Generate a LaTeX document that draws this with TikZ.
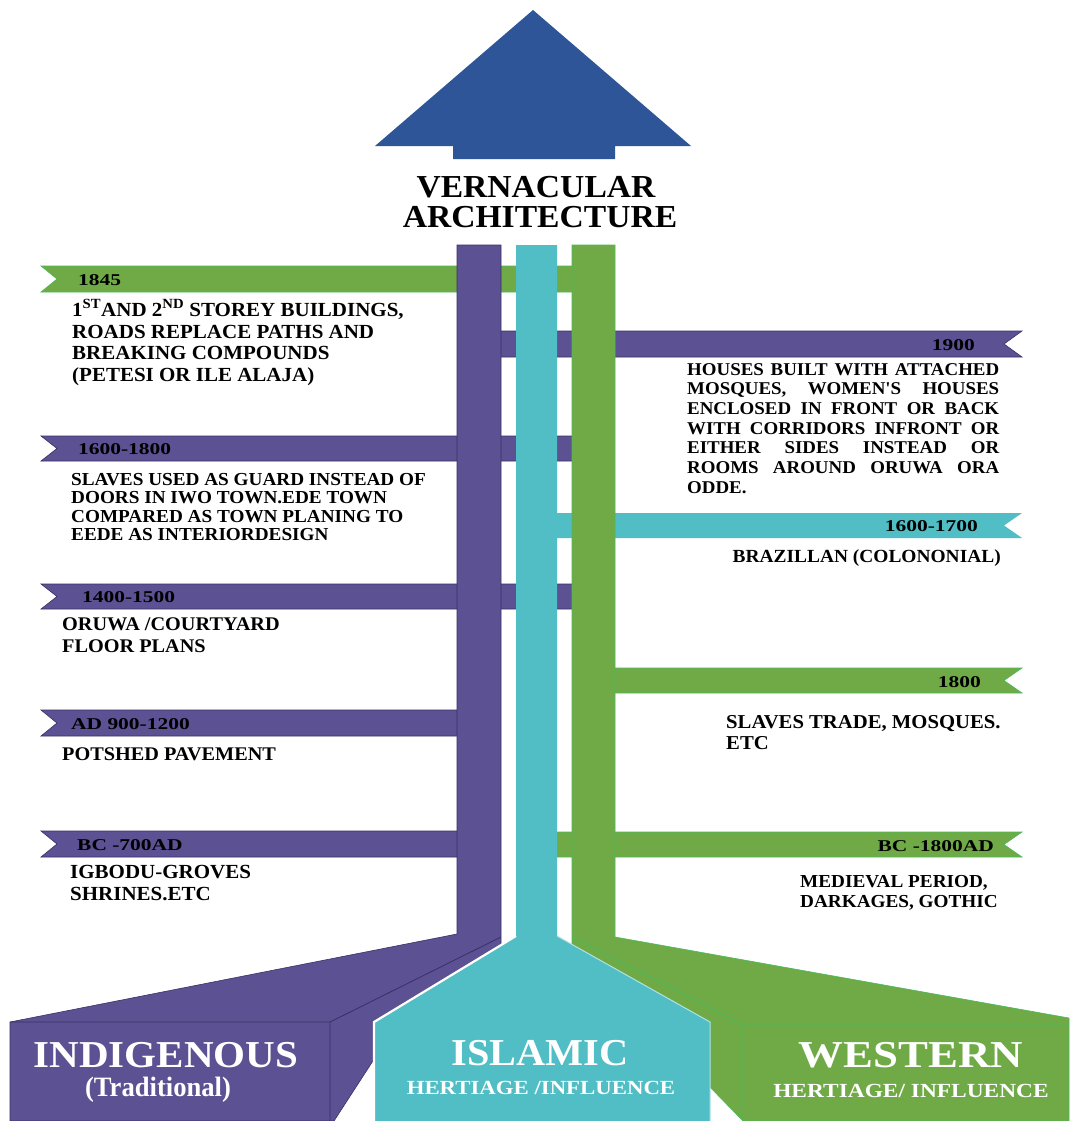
\documentclass[tikz,border=0pt]{standalone}
\usepackage{fontspec}
\usepackage{graphicx}
\setmainfont{Liberation Serif}
\newfontfamily\bfont[FakeStretch=1.05]{Liberation Serif}
\newfontfamily\lfont[FakeStretch=1.3]{Liberation Serif}
\newfontfamily\nfont{Liberation Serif}
\definecolor{pur}{RGB}{92,81,146}
\definecolor{purd}{RGB}{58,48,104}
\definecolor{tea}{RGB}{80,190,196}
\definecolor{gre}{RGB}{112,170,70}
\definecolor{gred}{RGB}{72,186,92}
\definecolor{blu}{RGB}{46,85,151}
\tikzset{
  pband/.style={fill=pur, draw=purd, line width=0.6pt},
  tband/.style={fill=tea},
  gband/.style={fill=gre, draw=gred, line width=0.6pt},
  pstem/.style={fill=pur, draw=purd, line width=0.6pt},
  tstem/.style={fill=tea},
  gstem/.style={fill=gre, draw=gred, line width=0.6pt},
  lbl/.style={inner sep=0pt, font=\lfont\bfseries\fontsize{16.5}{18}\selectfont, text=black},
  ttl/.style={anchor=base, inner sep=0pt, font=\bfont\bfseries\fontsize{32}{34}\selectfont},
  bigw/.style={anchor=base, inner sep=0pt, text=white, font=\nfont\bfseries\fontsize{38}{40}\selectfont},
  subw/.style={anchor=base, inner sep=0pt, text=white, font=\nfont\bfseries\fontsize{20}{22}\selectfont},
  body/.style={anchor=base west, inner sep=0pt},
}
\newcommand\lband[4]{\path[#1] (41,#2) -- (#4,#2) -- (#4,#3) -- (41,#3) -- (57,{(#2+#3)/2}) -- cycle;}
\newcommand\rband[4]{\path[#1] (#4,#2) -- (1022,#2) -- (1004,{(#2+#3)/2}) -- (1022,#3) -- (#4,#3) -- cycle;}
\newcommand\bodyf[2]{\bfont\bfseries\fontsize{#1}{#2}\selectfont}
\begin{document}
\begin{tikzpicture}[x=1pt,y=-1pt]
\useasboundingbox (0,0) rectangle (1069,1121);
\fill[white] (0,0) rectangle (1069,1121);

% arrow
\path[fill=blu] (533,10) -- (691,146) -- (615,146) -- (615,159) -- (453,159) -- (453,146) -- (375,146) -- cycle;
\node[ttl] (t1) at (536,197) {VERNACULAR};
\node[ttl] (t2) at (540,227) {ARCHITECTURE};

% bands (behind stems)
\lband{gband}{266}{292}{590}
\rband{pband}{331}{357}{480}
\lband{pband}{436}{461}{580}
\rband{tband}{513}{538}{537}
\lband{pband}{584}{609}{580}
\rband{gband}{668}{693}{600}
\lband{pband}{710}{736}{480}
\lband{pband}{831}{857}{480}
\rband{gband}{832}{857}{540}

% stems with bottom boxes
\path[gstem] (572,245) -- (615,245) -- (615,937) -- (1069,1018) -- (1069,1121) -- (743,1121) -- (705,1082) -- (600,1000) -- (572,960) -- cycle;
\path[pstem] (457,245) -- (501,245) -- (501,950) -- (380,1050) -- (334,1121) -- (10,1121) -- (10,1022) -- (457,934) -- cycle;
\path[tstem] (516,245) -- (557,245) -- (557,936) -- (710,1022) -- (710,1121) -- (374,1121) -- (374,1022) -- (516,936) -- cycle;
\draw[white, line width=2.2pt] (374,1122) -- (374,1022) -- (516,936);
\draw[white!55!tea, line width=1pt] (557,936) -- (710,1022) -- (710,1122);
\draw[purd, line width=0.8pt] (10,1022) -- (330,1022) -- (330,1122) (330,1022) -- (501,937);
\draw[gred, line width=0.8pt] (572,937) -- (743,1025) -- (1069,1025) (743,1025) -- (743,1122);

% labels
\node[lbl, anchor=base west] (l1845) at (78,285) {1845};
\node[lbl, anchor=base west] (l1600) at (78,454) {1600-1800};
\node[lbl, anchor=base west] (l1400) at (82,602) {1400-1500};
\node[lbl, anchor=base west] (lad) at (71,729) {AD 900-1200};
\node[lbl, anchor=base west] (lbc) at (77,850) {BC -700AD};
\node[lbl, anchor=base east] (l1900) at (975,350) {1900};
\node[lbl, anchor=base east] (l1617) at (978,531) {1600-1700};
\node[lbl, anchor=base east] (l1800) at (981,687) {1800};
\node[lbl, anchor=base east] (lbc2) at (994,851) {BC -1800AD};

% left texts
\node[body, font=\bodyf{20}{21.5}] (d1845) at (72,316.5) {\parbox[t]{400pt}{1\textsuperscript{ST}AND 2\textsuperscript{ND} STOREY BUILDINGS,\\ROADS REPLACE PATHS AND\\BREAKING COMPOUNDS\\(PETESI OR ILE ALAJA)}};
\node[body, font=\bodyf{18.3}{18.5}] (d1600) at (71,485) {\parbox[t]{400pt}{SLAVES USED AS GUARD INSTEAD OF\\DOORS IN IWO TOWN.EDE TOWN\\COMPARED AS TOWN PLANING TO\\EEDE AS INTERIORDESIGN}};
\node[body, font=\bodyf{19.3}{22}] (d1400) at (62,630) {\parbox[t]{400pt}{ORUWA /COURTYARD\\FLOOR PLANS}};
\node[body, font=\bodyf{19.3}{22}] (dad) at (62,760) {POTSHED PAVEMENT};
\node[body, font=\bodyf{20}{22}] (dbc) at (70,878) {\parbox[t]{400pt}{IGBODU-GROVES\\SHRINES.ETC}};

% right texts
\node[body, font=\bodyf{18}{19.7}] (d1900) at (687,375) {\parbox[t]{312pt}{\makebox[312pt][s]{HOUSES BUILT WITH ATTACHED}\\\makebox[312pt][s]{MOSQUES, WOMEN'S HOUSES}\\\makebox[312pt][s]{ENCLOSED IN FRONT OR BACK}\\\makebox[312pt][s]{WITH CORRIDORS INFRONT OR}\\\makebox[312pt][s]{EITHER SIDES INSTEAD OR}\\\makebox[312pt][s]{ROOMS AROUND ORUWA ORA}\\ODDE.}};
\node[body, anchor=base east, font=\bodyf{18.5}{20}] (d1617) at (1001,562) {BRAZILLAN (COLONONIAL)};
\node[body, font=\bodyf{19.7}{21}] (d1800) at (726,728) {\parbox[t]{400pt}{SLAVES TRADE, MOSQUES.\\ETC}};
\node[body, font=\bodyf{18.3}{20}] (dbc2) at (800,887) {\parbox[t]{300pt}{MEDIEVAL PERIOD,\\DARKAGES, GOTHIC}};

% bottom texts
\node[bigw] (ind) at (166,1067) {\scalebox{1.08}[1]{INDIGENOUS}};
\node[anchor=base, inner sep=0pt, text=white, font=\nfont\bfseries\fontsize{28}{30}\selectfont] (trad) at (158,1096) {\scalebox{0.95}[1]{(Traditional)}};
\node[bigw] (isl) at (540,1065) {\scalebox{1.06}[1]{ISLAMIC}};
\node[subw] (isl2) at (541,1094) {\scalebox{1.14}[1]{HERTIAGE /INFLUENCE}};
\node[bigw] (wes) at (911,1067) {\scalebox{1.18}[1]{WESTERN}};
\node[subw] (wes2) at (911,1097) {\scalebox{1.17}[1]{HERTIAGE/ INFLUENCE}};
\end{tikzpicture}
\end{document}
